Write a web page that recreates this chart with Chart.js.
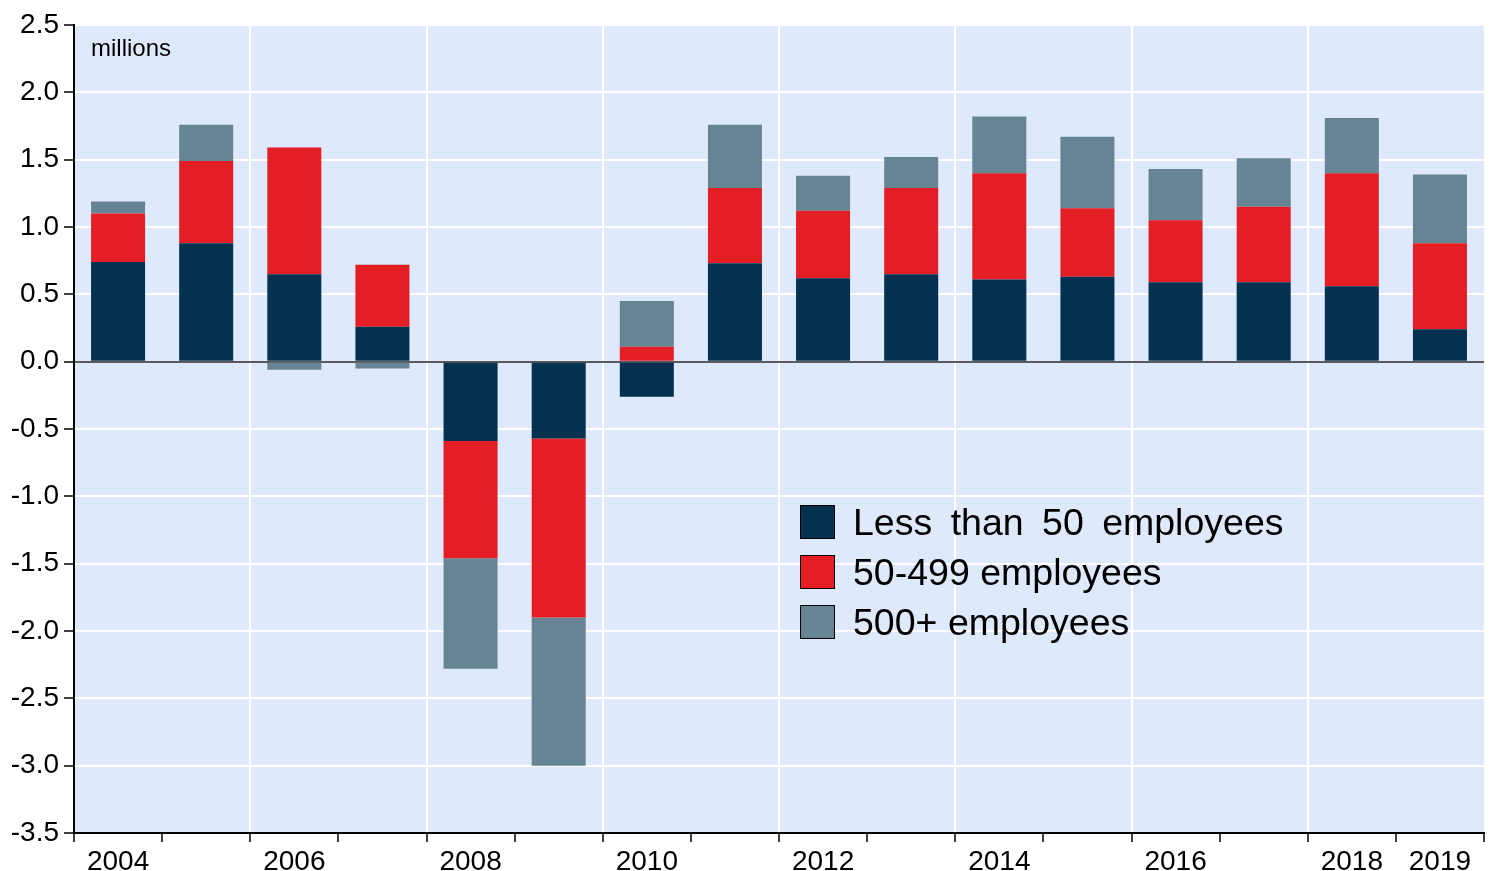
<!DOCTYPE html>
<html>
<head>
<meta charset="utf-8">
<script src="https://cdn.jsdelivr.net/npm/chart.js@4/dist/chart.umd.min.js"></script>
<style>
  body { margin: 0; background: #fff; font-family: "Liberation Sans", Arial, sans-serif; }
  #wrap { position: relative; width: 1494px; height: 871px; }
  #unit { position: absolute; left: 91px; top: 36px; font-size: 24px; line-height: 24px; color: #000; }
  #legend { position: absolute; left: 800px; top: 497px; }
  .row { display: flex; align-items: center; height: 50px; font-size: 37.5px; color: #000; }
  .sw { width: 33px; height: 32px; border: 1px solid #000; margin-right: 18px; }
</style>
</head>
<body>
<div id="wrap">
  <canvas id="jobsChart" width="1494" height="871"></canvas>
  <div id="unit">millions</div>
  <div id="legend"></div>
</div>
<script>
// 데이터
var years = ['2004', '2005', '2006', '2007', '2008', '2009', '2010', '2011',
             '2012', '2013', '2014', '2015', '2016', '2017', '2018', '2019'];
var small  = [0.74, 0.88, 0.65, 0.26, -0.59, -0.57, -0.26, 0.73, 0.62, 0.65, 0.61, 0.63, 0.59, 0.59, 0.56, 0.24];
var medium = [0.36, 0.61, 0.94, 0.46, -0.87, -1.33, 0.11, 0.56, 0.50, 0.64, 0.79, 0.51, 0.46, 0.56, 0.84, 0.64];
var large  = [0.09, 0.27, -0.06, -0.05, -0.82, -1.10, 0.34, 0.47, 0.26, 0.23, 0.42, 0.53, 0.38, 0.36, 0.41, 0.51];
var shownYears = ['2004', '2006', '2008', '2010', '2012', '2014', '2016', '2018', '2019'];

var seriesNames = ['Less than 50 employees', '50-499 employees', '500+ employees'];
var seriesColors = ['#03314F', '#E31E24', '#668494'];

// 플롯 영역 배경
var plotBg = {
    id: 'plotBg',
    beforeDraw: function(chart) {
        var a = chart.chartArea;
        var c = chart.ctx;
        c.save();
        c.fillStyle = '#DEEAFB';
        c.fillRect(a.left, a.top, a.right - a.left, a.bottom - a.top);
        c.restore();
    }
};

var ctx = document.getElementById('jobsChart').getContext('2d');
var jobsChart = new Chart(ctx, {
    type: 'bar',
    data: {
        labels: years,
        datasets: [{
            label: seriesNames[0],
            data: small,
            backgroundColor: seriesColors[0]
        }, {
            label: seriesNames[1],
            data: medium,
            backgroundColor: seriesColors[1]
        }, {
            label: seriesNames[2],
            data: large,
            backgroundColor: seriesColors[2]
        }]
    },
    options: {
        responsive: false,
        animation: false,
        barPercentage: 0.613,
        categoryPercentage: 1.0,
        layout: { padding: { top: 25, right: 10, left: 0, bottom: 0 } },
        plugins: {
            legend: { display: false },
            tooltip: { enabled: false }
        },
        scales: {
            x: {
                stacked: true,
                afterFit: function(s) { s.height = 38; },
                border: { color: '#000', width: 2 },
                grid: {
                    offset: true,
                    color: function(c) { return c.index % 2 === 0 ? '#FFFFFF' : 'rgba(0,0,0,0)'; },
                    lineWidth: 2,
                    tickColor: '#000',
                    tickLength: 9,
                    tickWidth: 1.5
                },
                ticks: {
                    autoSkip: false,
                    maxRotation: 0,
                    padding: 3,
                    color: '#000',
                    font: { family: '"Liberation Sans", Arial', size: 28 },
                    callback: function(v) {
                        var y = this.getLabelForValue(v);
                        return shownYears.indexOf(y) >= 0 ? y : '';
                    }
                }
            },
            y: {
                stacked: true,
                min: -3.5,
                max: 2.5,
                afterFit: function(s) { s.width = 74; },
                border: { color: '#000', width: 2 },
                grid: {
                    color: function(c) { return c.tick && c.tick.value === 0 ? '#5A5A5A' : '#FFFFFF'; },
                    lineWidth: 2,
                    tickColor: '#000',
                    tickLength: 10,
                    tickWidth: 1.5
                },
                ticks: {
                    stepSize: 0.5,
                    padding: 5,
                    color: '#000',
                    font: { family: '"Liberation Sans", Arial', size: 28 },
                    callback: function(v) { return v.toFixed(1); }
                }
            }
        }
    },
    plugins: [plotBg]
});

// 범례
var legendBox = document.getElementById('legend');
seriesNames.forEach(function(name, i) {
    var row = document.createElement('div');
    row.className = 'row';
    if (i === 0) row.style.wordSpacing = '8px';
    var sw = document.createElement('div');
    sw.className = 'sw';
    sw.style.background = seriesColors[i];
    var txt = document.createElement('span');
    txt.innerText = name;
    row.appendChild(sw);
    row.appendChild(txt);
    legendBox.appendChild(row);
});
</script>
</body>
</html>
